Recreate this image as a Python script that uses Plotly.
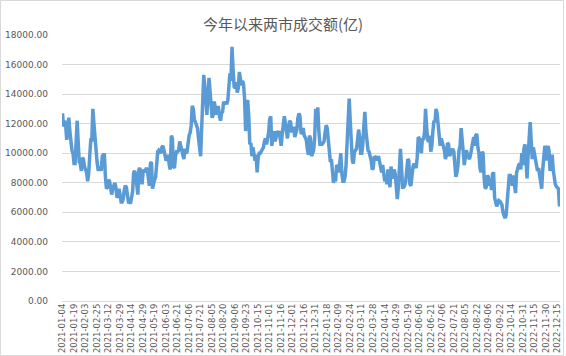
import plotly.graph_objects as go

title_text = "今年以来两市成交额(亿)"

tick_labels = [
    "2021-01-04", "2021-01-19", "2021-02-03", "2021-02-25", "2021-03-12", "2021-03-29",
    "2021-04-14", "2021-04-29", "2021-05-19", "2021-06-03", "2021-06-21", "2021-07-06",
    "2021-07-21", "2021-08-05", "2021-08-20", "2021-09-06", "2021-09-23", "2021-10-15",
    "2021-11-01", "2021-11-16", "2021-12-01", "2021-12-16", "2021-12-31", "2022-01-18",
    "2022-02-09", "2022-02-24", "2022-03-11", "2022-03-28", "2022-04-14", "2022-04-29",
    "2022-05-19", "2022-06-06", "2022-06-21", "2022-07-06", "2022-07-21", "2022-08-05",
    "2022-08-22", "2022-09-06", "2022-09-22", "2022-10-14", "2022-10-31", "2022-11-15",
    "2022-11-30", "2022-12-15",
]
label_step = 11  # trading days between labels

turnover_h1_2021 = [
    12700, 11800, 12200, 11900, 10900, 11800, 12400, 11500, 10600, 10200,
    10000, 9300, 9300, 10900, 12200, 10700, 9400, 9300, 8800, 9700,
    9600, 9100, 8900, 8700, 8100, 8600, 9800, 10900, 10900, 13000,
    12000, 10700, 10300, 9400, 8900, 8900, 9100, 8800, 9800, 9900,
    9900, 8400, 7600, 7700, 8200, 8100, 7600, 7200, 7600, 7800,
    8000, 7700, 7000, 7100, 7600, 7200, 6700, 6700, 6900, 7500,
    7800, 7700, 6900, 6700, 6700, 6600, 7000, 7400, 8700, 8800,
    8500, 7800, 7200, 8900, 9000, 8500, 7900, 8700, 8900, 8700,
    9000, 8900, 8300, 7800, 9300, 9400, 7600, 8100, 8200, 8400,
    9600, 10100, 10200, 10100, 10000, 10400, 10500, 10200, 9700, 9500,
    9600, 9900, 9200, 8900, 11200, 11000, 9100, 9000, 9800, 10100,
    10100, 10200, 10800, 10500, 10100, 9900, 9600, 10300, 10000, 10100,
]
turnover_h2_2021 = [
    11000, 11200, 11400, 11900, 13200, 13000, 12300, 12100, 11900, 11700,
    11000, 10200, 9800, 11700, 13900, 15300, 14500, 13000, 12600, 13800,
    15100, 14200, 12800, 12400, 12600, 13500, 13100, 12600, 13100, 13100,
    12500, 12200, 12700, 12800, 13500, 13300, 13500, 13300, 13600, 14800,
    15400, 14900, 17200, 15700, 14500, 14400, 14800, 14100, 14400, 15500,
    15100, 14600, 14900, 14700, 13700, 11500, 13400, 13600, 12500, 10600,
    10700, 9800, 10400, 10000, 9500, 9900, 8700, 9700, 10000, 10000,
    10100, 10300, 10400, 10800, 11000, 10600, 11000, 11400, 12300, 12500,
    10500, 10900, 11500, 10800, 11000, 11500, 11300, 11500, 11000, 10500,
    11300, 12200, 12500, 12000, 11500, 11000, 11700, 12200, 12100, 11500,
    11500, 11800, 11100, 11500, 11600, 12400, 12700, 12500, 11300, 11400,
    11700, 11200, 11100, 10900, 10300, 9900, 11200, 11000, 9800, 10000,
    10200, 11000,
]
turnover_h1_2022 = [
    13000, 12000, 13100, 11500, 10600, 10600, 10600, 10700, 10800, 11400,
    11900, 11700, 11000, 10400, 9400, 9600, 8600, 8000, 8300, 8100,
    9200, 9100, 8700, 9300, 10000, 8600, 8100, 8100, 8400, 9200,
    10400, 12200, 13700, 12200, 10300, 9500, 9300, 10100, 10200, 10300,
    10900, 11600, 11100, 10000, 10000, 10600, 11800, 12800, 11500, 10500,
    10200, 10100, 9800, 9500, 8900, 9000, 9800, 9700, 9800, 9500,
    9800, 9500, 9000, 8700, 9200, 8800, 8100, 8400, 7900, 8900,
    7900, 7700, 9100, 8400, 8300, 8900, 8600, 7800, 6900, 7700,
    9100, 10300, 9100, 7700, 7700, 7800, 8100, 9000, 9600, 9500,
    7900, 7800, 8800, 9100, 9300, 9200, 9000, 9700, 11100, 11000,
    10600, 10000, 11000, 10900, 11400, 13000, 11800, 10900, 10800, 11200,
    10100, 10500, 11500, 12200, 12100, 13000, 12700, 11700,
]
turnover_h2_2022 = [
    10700, 10500, 11000, 10700, 10400, 10200, 9600, 9900, 10700, 10600,
    9800, 10000, 10200, 10300, 10100, 8900, 8400, 8700, 9200, 10200,
    10500, 11700, 11100, 10100, 9200, 9700, 10200, 9900, 9800, 9600,
    9900, 10200, 10700, 11100, 10500, 11200, 11300, 10400, 10000, 9000,
    8700, 10100, 10000, 8300, 7600, 7700, 8500, 8400, 7800, 8300,
    7500, 8600, 8700, 7000, 6600, 6400, 6600, 6800, 6750, 6650,
    6500, 6000, 5650, 5600, 5800, 6700, 7700, 8500, 8500, 8000,
    7800, 8500, 7900, 7300, 8700, 9000, 9200, 9300, 8900, 10000,
    9200, 10300, 10600, 9500, 8300, 9800, 11300, 12100, 10800, 9600,
    10400, 9800, 9600, 9200, 8800, 9000, 8400, 7900, 7600, 8900,
    9800, 10500, 10300, 9500, 10500, 10200, 8800, 9500, 9900, 8900,
    8300, 7900, 7750, 7650, 7600, 6400,
]

values = turnover_h1_2021 + turnover_h2_2021 + turnover_h1_2022 + turnover_h2_2022
x_idx = list(range(len(values)))
tick_vals = [i * label_step for i in range(len(tick_labels))]

fig = go.Figure()
fig.add_trace(go.Scatter(
    x=x_idx, y=values, mode="lines",
    line=dict(color="#5B9BD5", width=3.5),
    hoverinfo="y",
))

W, H = 566, 356
ml, mr, mt, mb = 62, 6, 35, 55
pw, ph = W - ml - mr, H - mt - mb

def px_to_paper_x(px):
    return (px - ml) / pw

def px_to_paper_y(py):
    return (H - mb - py) / ph

fig.update_layout(
    width=W, height=H,
    margin=dict(l=ml, r=mr, t=mt, b=mb, autoexpand=False),
    paper_bgcolor="white", plot_bgcolor="white",
    showlegend=False,
    title=dict(
        text=title_text, x=0.5, xref="container", xanchor="center",
        y=1 - 25 / H, yref="container", yanchor="middle",
        font=dict(family="Noto Sans CJK SC", size=15, color="#595959"),
    ),
    xaxis=dict(
        range=[-0.5, len(values) - 0.5], automargin=False,
        tickmode="array", tickvals=tick_vals, ticktext=tick_labels,
        tickangle=-90, ticks="", showgrid=False, zeroline=False, showline=False,
        tickfont=dict(family="DejaVu Sans", size=8.5, color="#595959"),
    ),
    yaxis=dict(
        range=[0, 18000], dtick=2000, tick0=0, tickformat=".2f", automargin=False,
        showgrid=True, gridcolor="#D9D9D9", gridwidth=1,
        zeroline=True, zerolinecolor="#D9D9D9", zerolinewidth=1,
        showline=False, ticks="", ticklabelstandoff=13,
        tickfont=dict(family="DejaVu Sans", size=9, color="#595959"),
    ),
    shapes=[dict(
        type="rect", xref="paper", yref="paper",
        x0=px_to_paper_x(0.5), x1=px_to_paper_x(563.5),
        y0=px_to_paper_y(355.5), y1=px_to_paper_y(0.5),
        line=dict(color="#D9D9D9", width=1), fillcolor="rgba(0,0,0,0)",
        layer="below",
    )],
)

fig.write_html(
    "out.html",
    config={"displayModeBar": False},
    post_script="document.body.style.margin='0';document.body.style.overflow='hidden';",
)
